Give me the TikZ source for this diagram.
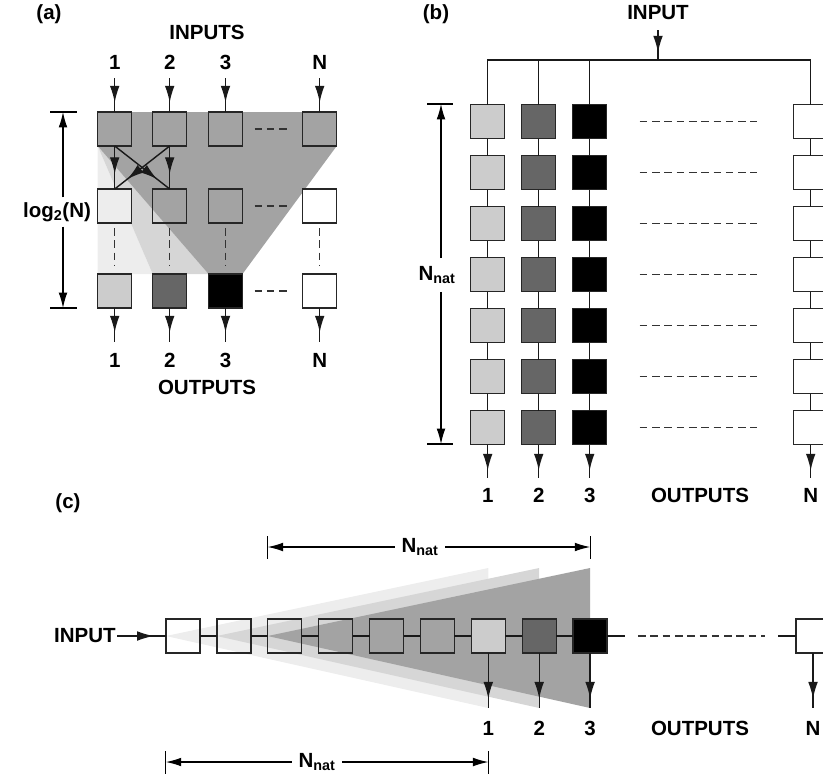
\documentclass[tikz,border=0pt]{standalone}
\usepackage{fontspec}
\setmainfont{Liberation Sans}
\usetikzlibrary{arrows.meta}
\usetikzlibrary{positioning}
\usetikzlibrary{matrix}
\usetikzlibrary{backgrounds}
\usetikzlibrary{decorations.markings}

\definecolor{shadeA}{gray}{0.64}
\definecolor{shadeB}{gray}{0.84}
\definecolor{shadeC}{gray}{0.93}
\definecolor{outA}{gray}{0.80}
\definecolor{outB}{gray}{0.40}

\tikzset{
  blk/.style={draw=black!85, line width=1.2pt, minimum size=1.02cm, inner sep=0pt, outer sep=0pt},
  lab/.style={font=\bfseries\fontsize{17.5}{20}\selectfont, inner sep=0pt},
  wire/.style={draw=black!90, line width=1.2pt},
  tipat/.style={postaction={decorate, decoration={markings, mark=at position #1 with {\arrow{Latex[length=5mm,width=2.9mm]}}}}},
  dimarr/.style={line width=0.9pt, -{Latex[length=4.6mm,width=2.6mm]}},
  dimtick/.style={line width=0.9pt},
  dashrow/.style={draw=black!80, line width=1.1pt, dash pattern=on 6.5pt off 4pt},
  lblgap/.style={outer sep=#1},
}

\begin{document}
\begin{tikzpicture}[x=0.03cm, y=-0.03cm]
\useasboundingbox (0,0) rectangle (823,778);

% (a) log2(N) stages
\node[lab] (pa) at (49,14) {(a)};
\foreach \c/\x/\fm/\fb in {1/114.7/shadeC/outA, 2/169.7/none/outB, 3/225.5/none/black, 4/319.7/white/white}{
  \node[blk] (a1\c) at (\x,129) {};
  \node[blk, fill=\fm] (a2\c) at (\x,206) {};
  \node[blk, fill=\fb] (a3\c) at (\x,291) {};
}
\foreach \c/\t in {1/1,2/2,3/3,4/N}{
  \path (a1\c) ++(0,-67) node[lab] (ai\c) {\t};
  \path (a1\c.north) ++(0,-34) coordinate (ae\c);
  \draw[wire, tipat=0.72] (ae\c) -- (a1\c);
  \path (a3\c.south) ++(0,34) coordinate (ao\c);
  \draw[wire, tipat=0.72] (a3\c) -- (ao\c);
  \path (a3\c) ++(0,69) node[lab] (au\c) {\t};
}
\node[lab] (ain) at (207,32) {INPUTS};
\node[lab] (aout) at (207,387) {OUTPUTS};
\draw[wire, tipat=0.65] (a11) -- (a21);
\draw[wire, tipat=0.65] (a12) -- (a22);
\draw[wire, tipat=0.77] (a11.south) -- (a22.north);
\draw[wire, tipat=0.77] (a12.south) -- (a21.north);
\foreach \r in {1,2,3}
  \draw[dashrow, shorten <=3.6mm, shorten >=3.6mm] (a\r3) -- (a\r4);
\foreach \c in {1,...,4}
  \draw[dashrow, shorten <=1.5mm, shorten >=2.7mm] (a2\c) -- (a3\c);
\node[lab, lblgap=1.5mm] (alog) at (57,212) {log\textsubscript{2}(N)};
\coordinate (adt) at (63,112);
\coordinate (adb) at (63,308);
\draw[dimarr] (alog.north -| adt) -- (adt);
\draw[dimarr] (alog.south -| adb) -- (adb);
\draw[dimtick] ([xshift=-0.39cm]adt) -- ([xshift=0.42cm]adt);
\draw[dimtick] ([xshift=-0.39cm]adb) -- ([xshift=0.42cm]adb);
\begin{scope}[on background layer]
  \fill[shadeC] (a11.south west) -- (a32.north west) -- (a31.north west) -- cycle;
  \fill[shadeB] (a11.south west) -- (a33.north west) -- (a32.north west) -- cycle;
  \fill[shadeA] (a11.north west) -- (a14.north east) -- (a14.south east) -- (a33.north east)
    -- (a33.north west) -- (a11.south west) -- cycle;
\end{scope}

% (b) parallel chains
\node[lab] (pb) at (436,14) {(b)};
\matrix (bm) [matrix of nodes, nodes in empty cells, nodes={blk}, inner sep=0pt, outer sep=0pt,
  row sep={1.53cm,between origins}, column sep={1.53cm,between origins},
  column 1/.style={nodes={fill=outA}}, column 2/.style={nodes={fill=outB}},
  column 3/.style={nodes={fill=black}}, anchor=north west] at (470,104)
{
 & & \\
 & & \\
 & & \\
 & & \\
 & & \\
 & & \\
 & & \\
};
\foreach \r in {1,...,7}{
  \path (bm-\r-3) ++(221,0) node[blk, fill=white] (bn\r) {};
  \draw[dashrow, shorten <=0.99cm, shorten >=1.11cm] (bm-\r-3) -- (bn\r);
}
\foreach \r/\s in {1/2,2/3,3/4,4/5,5/6,6/7}{
  \foreach \c in {1,2,3}
    \draw[wire] (bm-\r-\c) -- (bm-\s-\c);
  \draw[wire] (bn\r) -- (bn\s);
}
\node[lab] (bin) at (658,13) {INPUT};
\coordinate (bsrc) at (658,30);
\coordinate (bbus) at (658,60);
\draw[wire] (bm-1-1) |- (bbus) -| (bn1);
\draw[wire] (bm-1-2) -- (bm-1-2 |- bbus);
\draw[wire] (bm-1-3) -- (bm-1-3 |- bbus);
\draw[wire, tipat=0.75] (bsrc) -- (bbus);
\foreach \c in {1,2,3}{
  \path (bm-7-\c.south) ++(0,33) coordinate (bo\c);
  \draw[wire, tipat=0.78] (bm-7-\c) -- (bo\c);
  \path (bm-7-\c) ++(0,68) node[lab] (bu\c) {\c};
}
\path (bn7.south) ++(0,33) coordinate (boN);
\draw[wire, tipat=0.78] (bn7) -- (boN);
\path (bn7) ++(0,68) node[lab] (buN) {N};
\node[lab] (bout) at (700,495) {OUTPUTS};
\node[lab, lblgap=2.5mm] (bnat) at (437,275) {N\textsubscript{nat}};
\coordinate (bdt) at (441,104);
\coordinate (bdb) at (441,444);
\draw[dimarr] (bnat.north -| bdt) -- (bdt);
\draw[dimarr] (bnat.south -| bdb) -- (bdb);
\draw[dimtick] ([xshift=-0.42cm]bdt) -- ([xshift=0.36cm]bdt);
\draw[dimtick] ([xshift=-0.42cm]bdb) -- ([xshift=0.36cm]bdb);

% (c) one long chain
\node[lab] (pc) at (68,503) {(c)};
\foreach \i/\f in {1/none,2/none,3/none,4/none,5/none,6/none,7/outA,8/outB,9/black}
  \node[blk, fill=\f] (c\i) at ({182.9+50.9*(\i-1)},636) {};
\node[blk, fill=white] (cn) at (813,636) {};
\foreach \i/\j in {1/2,2/3,3/4,4/5,5/6,6/7,7/8,8/9}
  \draw[wire] (c\i) -- (c\j);
\node[lab, lblgap=0.5mm] (cin) at (85,636) {INPUT};
\draw[wire, tipat=0.75] (cin) -- (c1);
\coordinate (ce) at (625,636);
\coordinate (cs) at (778,636);
\draw[wire] (c9) -- (ce);
\draw[dashrow, shorten <=0.39cm, shorten >=0.39cm] (ce) -- (cs);
\draw[wire] (cs) -- (cn);
\foreach \n/\t in {c7/1,c8/2,c9/3,cn/N}{
  \path (\n.south) ++(0,55) coordinate (o\n);
  \draw[wire, tipat=0.83] (\n) -- (o\n);
  \path (\n) ++(0,92) node[lab] (u\n) {\t};
}
\node[lab] (cout) at (700,728) {OUTPUTS};
\path (c3.west) ++(0,-89) coordinate (ctl);
\path (c9) ++(0,-89) coordinate (ctr);
\node[lab, lblgap=2mm] (cnat) at (420,547) {N\textsubscript{nat}};
\draw[dimarr] (cnat.west |- ctl) -- (ctl);
\draw[dimarr] (cnat.east |- ctr) -- (ctr);
\draw[dimtick] ([yshift=0.33cm]ctl) -- ([yshift=-0.36cm]ctl);
\draw[dimtick] ([yshift=0.33cm]ctr) -- ([yshift=-0.36cm]ctr);
\path (c1.west) ++(0,126) coordinate (cbl);
\path (c7) ++(0,126) coordinate (cbr);
\node[lab, lblgap=2mm] (cnatb) at (317,762) {N\textsubscript{nat}};
\draw[dimarr] (cnatb.west |- cbl) -- (cbl);
\draw[dimarr] (cnatb.east |- cbr) -- (cbr);
\draw[dimtick] ([yshift=0.33cm]cbl) -- ([yshift=-0.36cm]cbl);
\draw[dimtick] ([yshift=0.33cm]cbr) -- ([yshift=-0.36cm]cbr);
\begin{scope}[on background layer]
  \fill[shadeC] (c1.west) -- ([yshift=2.04cm]c7.center) -- ([yshift=-2.16cm]c7.center) -- cycle;
  \fill[shadeB] (c2.west) -- ([yshift=2.04cm]c8.center) -- ([yshift=-2.16cm]c8.center) -- cycle;
  \fill[shadeA] (c3.west) -- ([yshift=2.04cm]c9.center) -- ([yshift=-2.16cm]c9.center) -- cycle;
\end{scope}
\end{tikzpicture}
\end{document}
